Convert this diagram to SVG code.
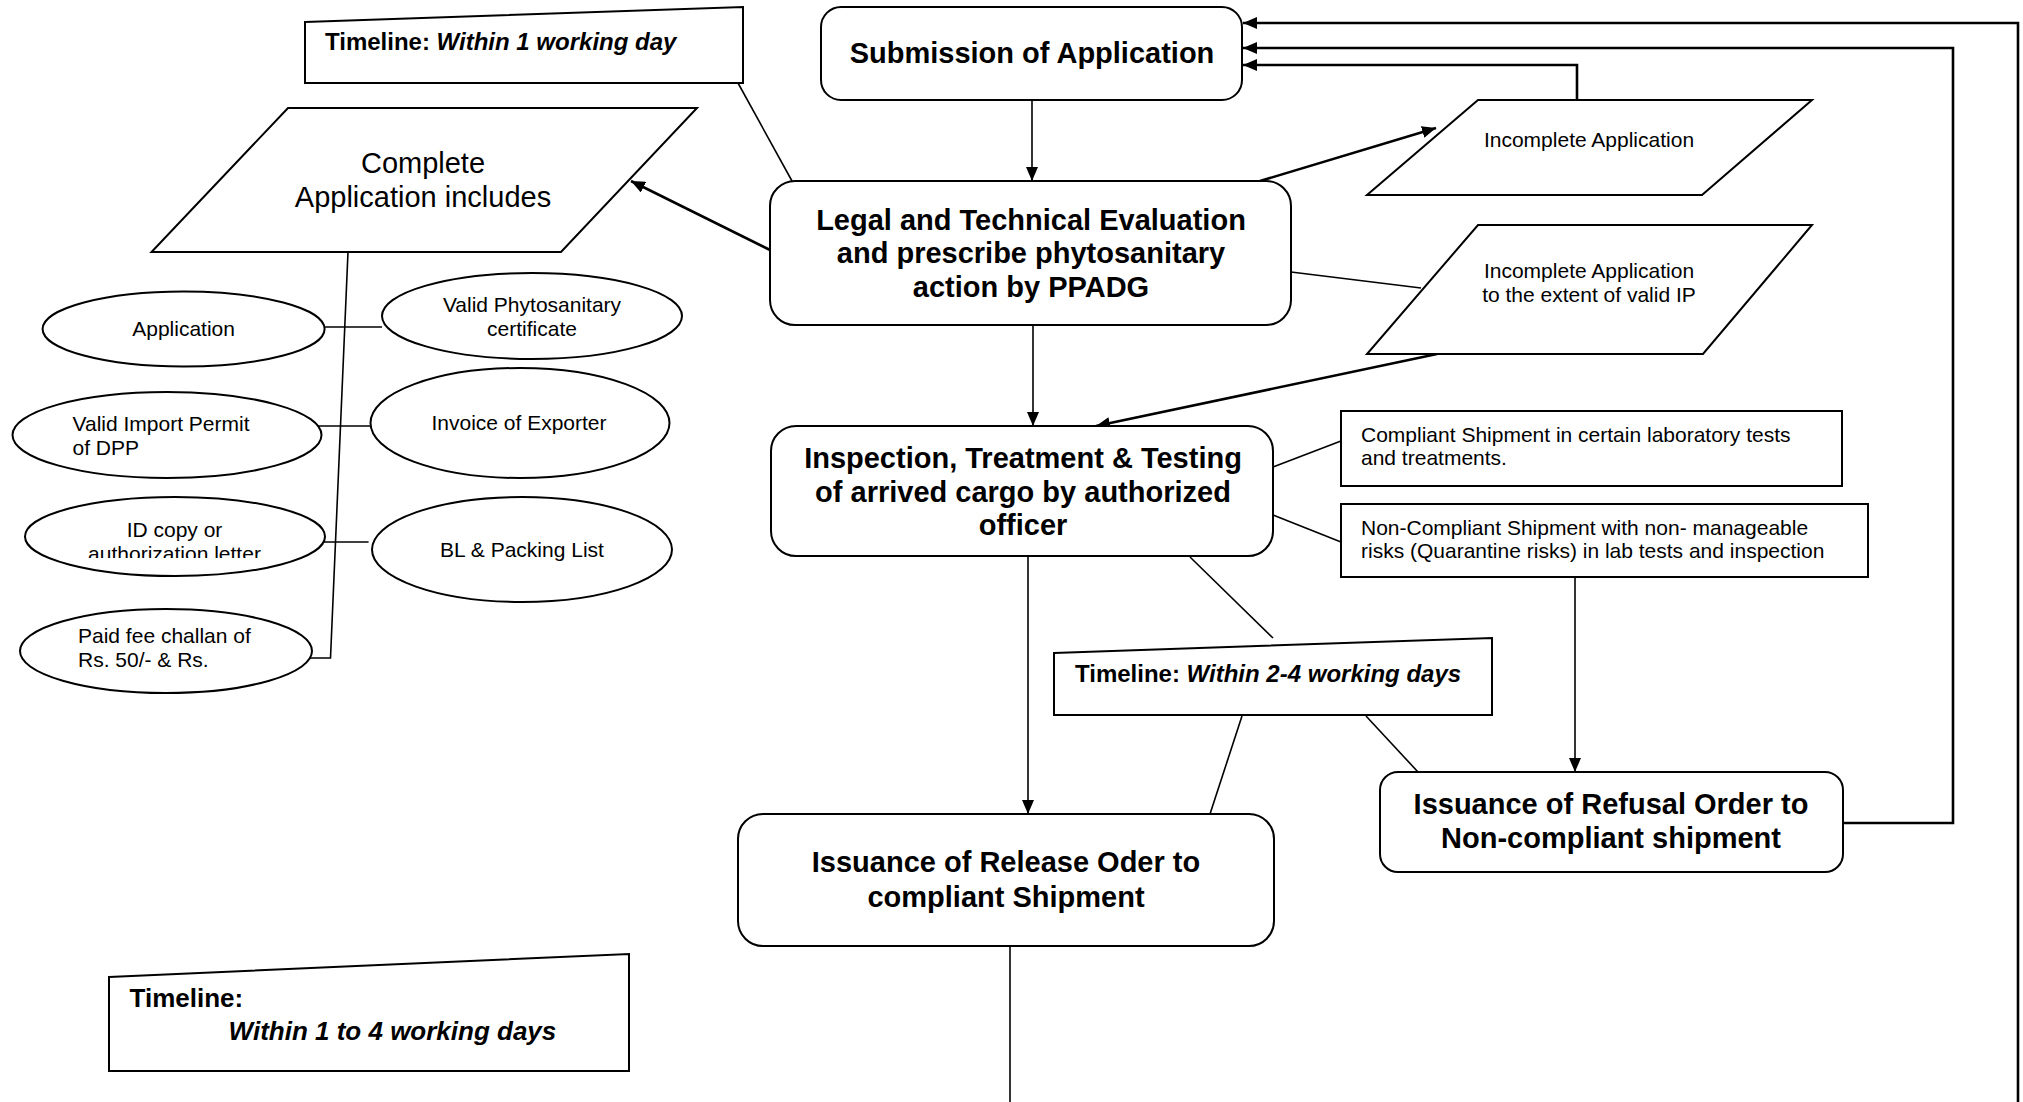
<svg xmlns="http://www.w3.org/2000/svg" width="2023" height="1102" viewBox="0 0 2023 1102">
<style>
.shape{fill:#fff;stroke:#000;stroke-width:2}
.ln{fill:none;stroke:#000;stroke-width:1.6}
.th{fill:none;stroke:#000;stroke-width:2.6}
.b{font-family:"Liberation Sans",Arial,sans-serif;font-weight:bold;font-size:29px;text-anchor:middle;fill:#000}
.r{font-family:"Liberation Sans",Arial,sans-serif;font-size:21px;fill:#000}
.c{text-anchor:middle}
.t{font-family:"Liberation Sans",Arial,sans-serif;font-weight:bold;font-size:24px;fill:#000}
.i{font-style:italic}
</style>
<defs>
<marker id="ah" viewBox="0 0 14 12" refX="14" refY="6" markerWidth="14" markerHeight="12" markerUnits="userSpaceOnUse" orient="auto">
<path d="M0,0 L14,6 L0,12 Z" fill="#000"/>
</marker>
<clipPath id="idclip"><rect x="20" y="490" width="310" height="68"/></clipPath>
</defs>
<rect width="2023" height="1102" fill="#fff"/>

<g id="connectors">
<line class="ln" x1="738" y1="83" x2="792" y2="181"/>
<polyline class="ln" points="348,252 330.5,658 305,658"/>
<line class="ln" x1="324.5" y1="327" x2="382" y2="327"/>
<line class="ln" x1="314" y1="426" x2="370" y2="426"/>
<line class="ln" x1="314.5" y1="542" x2="368.6" y2="542"/>
<line class="ln" x1="1032" y1="100" x2="1032" y2="181" marker-end="url(#ah)"/>
<line class="ln" x1="1033" y1="325" x2="1033" y2="426" marker-end="url(#ah)"/>
<line class="ln" x1="1028" y1="556" x2="1028" y2="814" marker-end="url(#ah)"/>
<line class="th" x1="770" y1="250" x2="631" y2="181" marker-end="url(#ah)"/>
<line class="th" x1="1260" y1="181" x2="1436" y2="128" marker-end="url(#ah)"/>
<line class="th" x1="1437" y1="354" x2="1096" y2="426" marker-end="url(#ah)"/>
<line class="ln" x1="1575" y1="577" x2="1575" y2="772" marker-end="url(#ah)"/>
<polyline class="th" points="1577,100 1577,65 1243,65" marker-end="url(#ah)"/>
<polyline class="th" points="1843,823 1953,823 1953,48 1243,48" marker-end="url(#ah)"/>
<polyline class="th" points="2018,1102 2018,23 1243,23" marker-end="url(#ah)"/>
<line class="ln" x1="1010" y1="946" x2="1010" y2="1102"/>
<line class="ln" x1="1291" y1="272" x2="1421" y2="288"/>
<line class="ln" x1="1273" y1="467" x2="1341" y2="441"/>
<line class="ln" x1="1273" y1="515" x2="1341" y2="542"/>
<line class="ln" x1="1190" y1="557" x2="1273" y2="638"/>
<line class="ln" x1="1242" y1="716" x2="1210" y2="814"/>
<line class="ln" x1="1366" y1="716" x2="1418" y2="772"/>
</g>

<g id="timeline1">
<polygon class="shape" points="305,22 743,7 743,83 305,83"/>
<text class="t" x="325" y="50">Timeline: <tspan class="i">Within 1 working day</tspan></text>
</g>

<g id="complete-app">
<polygon class="shape" points="288,108 697,108 561,252 151.5,252"/>
<text class="r c" style="font-size:29px" x="423" y="173">Complete</text>
<text class="r c" style="font-size:29px" x="423" y="207">Application includes</text>
</g>

<g id="e-application">
<ellipse class="shape" cx="183.6" cy="329" rx="141" ry="37.5"/>
<text class="r c" x="183.6" y="336">Application</text>
</g>
<g id="e-phyto">
<ellipse class="shape" cx="532" cy="316" rx="150" ry="43"/>
<text class="r c" x="532" y="312">Valid Phytosanitary</text>
<text class="r c" x="532" y="336">certificate</text>
</g>
<g id="e-import">
<ellipse class="shape" cx="167" cy="435" rx="154.5" ry="43"/>
<text class="r" x="72.5" y="431">Valid Import Permit</text>
<text class="r" x="72.5" y="455">of DPP</text>
</g>
<g id="e-invoice">
<ellipse class="shape" cx="520" cy="423" rx="149.5" ry="55"/>
<text class="r c" x="519" y="430">Invoice of Exporter</text>
</g>
<g id="e-id">
<ellipse class="shape" cx="175" cy="536.5" rx="150" ry="39.5"/>
<text class="r c" x="174.5" y="536.7">ID copy or</text>
<text class="r c" x="174.5" y="561" clip-path="url(#idclip)">authorization letter</text>
</g>
<g id="e-bl">
<ellipse class="shape" cx="522" cy="549.5" rx="150" ry="52.5"/>
<text class="r c" x="522" y="557">BL &amp; Packing List</text>
</g>
<g id="e-fee">
<ellipse class="shape" cx="166" cy="651" rx="146" ry="42"/>
<text class="r" x="78" y="643">Paid fee challan of</text>
<text class="r" x="78" y="667">Rs. 50/- &amp; Rs.</text>
</g>

<g id="submission">
<rect class="shape" x="821" y="7" width="421" height="93" rx="20"/>
<text class="b" x="1032" y="63">Submission of Application</text>
</g>

<g id="legal">
<rect class="shape" x="770" y="181" width="521" height="144" rx="25"/>
<text class="b" x="1031" y="230">Legal and Technical Evaluation</text>
<text class="b" x="1031" y="263">and prescribe phytosanitary</text>
<text class="b" x="1031" y="297">action by PPADG</text>
</g>

<g id="incomplete">
<polygon class="shape" points="1478,100 1812,100 1702,195 1367,195"/>
<text class="r c" x="1589" y="147">Incomplete Application</text>
</g>

<g id="incomplete-ip">
<polygon class="shape" points="1478,225 1812,225 1703,354 1367,354"/>
<text class="r c" x="1589" y="278">Incomplete Application</text>
<text class="r c" x="1589" y="302">to the extent of valid IP</text>
</g>

<g id="inspection">
<rect class="shape" x="771" y="426" width="502" height="130" rx="25"/>
<text class="b" x="1023" y="468">Inspection, Treatment &amp; Testing</text>
<text class="b" x="1023" y="502">of arrived cargo by authorized</text>
<text class="b" x="1023" y="535">officer</text>
</g>

<g id="compliant">
<rect class="shape" x="1341" y="411" width="501" height="75"/>
<text class="r" x="1361" y="442">Compliant Shipment in certain laboratory tests</text>
<text class="r" x="1361" y="465">and treatments.</text>
</g>

<g id="noncompliant">
<rect class="shape" x="1341" y="504" width="527" height="73"/>
<text class="r" x="1361" y="535">Non-Compliant Shipment with non- manageable</text>
<text class="r" x="1361" y="558">risks (Quarantine risks) in lab tests and inspection</text>
</g>

<g id="timeline2">
<polygon class="shape" points="1054,653 1492,638 1492,715 1054,715"/>
<text class="t" x="1075" y="682">Timeline: <tspan class="i">Within 2-4 working days</tspan></text>
</g>

<g id="release">
<rect class="shape" x="738" y="814" width="536" height="132" rx="25"/>
<text class="b" x="1006" y="872">Issuance of Release Oder to</text>
<text class="b" x="1006" y="907">compliant Shipment</text>
</g>

<g id="refusal">
<rect class="shape" x="1380" y="772" width="463" height="100" rx="18"/>
<text class="b" x="1611" y="814">Issuance of Refusal Order to</text>
<text class="b" x="1611" y="848">Non-compliant shipment</text>
</g>

<g id="timeline3">
<polygon class="shape" points="109,977 629,954 629,1071 109,1071"/>
<text class="t" style="font-size:26px" x="129.5" y="1007">Timeline:</text>
<text class="t i" style="font-size:26px" x="228.6" y="1040">Within 1 to 4 working days</text>
</g>
</svg>
